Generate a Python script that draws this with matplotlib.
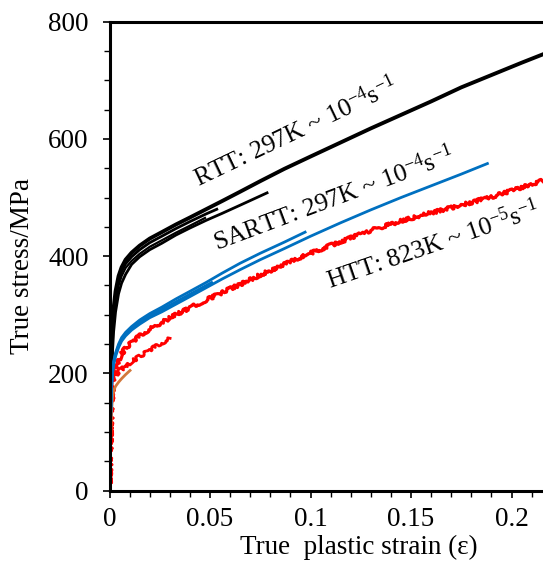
import matplotlib
matplotlib.use("Agg")
import matplotlib.pyplot as plt
from matplotlib.ticker import MultipleLocator, FuncFormatter

plt.rcParams["font.family"] = ["Liberation Serif", "DejaVu Serif"]
plt.rcParams["mathtext.fontset"] = "custom"
plt.rcParams["mathtext.rm"] = "Liberation Serif"
plt.rcParams["mathtext.it"] = "Liberation Serif:italic"

# RTT: room temperature tests (297 K, 1e-4 /s)
rtt_long_strain = [0, 0.0003, 0.0006, 0.001, 0.0015, 0.002, 0.003, 0.0045, 0.006, 0.008, 0.011,
                   0.015, 0.02, 0.026, 0.033, 0.04, 0.048, 0.056, 0.065, 0.075, 0.087, 0.1,
                   0.115, 0.13, 0.145, 0.16, 0.175, 0.19, 0.205, 0.222]
rtt_long_stress = [0, 90, 170, 235, 280, 310, 340, 366, 381, 394, 406,
                   418, 430, 441, 454, 466, 480, 494, 510, 528, 549, 570,
                   594, 618, 641, 664, 688, 709, 730, 753]
rtt_b_strain = [0, 0.0003, 0.0006, 0.001, 0.0015, 0.002, 0.003, 0.0045, 0.006, 0.008, 0.011,
                0.015, 0.02, 0.026, 0.033, 0.04, 0.048, 0.054]
rtt_b_stress = [0, 85, 160, 222, 268, 300, 332, 358, 374, 387, 399,
                411, 423, 434, 447, 459, 472, 481]
rtt_c_strain = [0, 0.0003, 0.0006, 0.001, 0.0015, 0.002, 0.003, 0.0045, 0.006, 0.008, 0.011,
                0.015, 0.02, 0.026, 0.033, 0.04, 0.048]
rtt_c_stress = [0, 80, 150, 210, 255, 288, 322, 350, 366, 380, 392,
                404, 416, 427, 440, 452, 466]
rtt_d_strain = [0, 0.0003, 0.0006, 0.001, 0.0015, 0.002, 0.003, 0.0045, 0.006, 0.008, 0.011,
                0.015, 0.02, 0.026, 0.033, 0.04, 0.048, 0.056, 0.065, 0.072, 0.079]
rtt_d_stress = [0, 75, 140, 195, 238, 270, 305, 336, 354, 369, 386,
                399, 411, 422, 436, 448, 461, 473, 487, 498, 509]

# SARTT: 297 K, 1e-4 /s
sartt_long_strain = [0, 0.0003, 0.0006, 0.001, 0.0015, 0.002, 0.003, 0.0045, 0.006, 0.008, 0.011,
                     0.015, 0.02, 0.026, 0.033, 0.04, 0.048, 0.056, 0.065, 0.075, 0.087, 0.1,
                     0.115, 0.13, 0.145, 0.16, 0.175, 0.188]
sartt_long_stress = [0, 70, 130, 175, 200, 214, 229, 244, 255, 264, 274,
                     284, 295, 305, 318, 331, 346, 361, 377, 394, 413, 434,
                     457, 479, 500, 520, 540, 558]
sartt_b_strain = [0, 0.0003, 0.0006, 0.001, 0.0015, 0.002, 0.003, 0.0045, 0.006, 0.008, 0.011,
                  0.015, 0.02, 0.026, 0.033, 0.04, 0.048, 0.056, 0.065, 0.075, 0.087, 0.0973]
sartt_b_stress = [0, 72, 135, 182, 207, 220, 235, 250, 261, 270, 280,
                  291, 302, 313, 327, 340, 355, 371, 388, 405, 424, 441]
sartt_c_strain = [0, 0.0003, 0.0006, 0.001, 0.0015, 0.002, 0.003, 0.0045, 0.006, 0.008, 0.011,
                  0.015, 0.02, 0.026, 0.033, 0.04, 0.0508]
sartt_c_stress = [0, 70, 132, 178, 203, 217, 232, 247, 258, 267, 277,
                  287, 298, 309, 322, 335, 355]

# HTT: high temperature tests (823 K, 1e-5 /s)
htt_long_strain = [0, 0.0003, 0.0006, 0.001, 0.0015, 0.002, 0.003, 0.0045, 0.006, 0.008, 0.011,
                   0.015, 0.02, 0.026, 0.033, 0.04, 0.048, 0.056, 0.065, 0.075, 0.087, 0.1,
                   0.115, 0.13, 0.145, 0.16, 0.175, 0.19, 0.205, 0.2157, 0.222]
htt_long_stress = [0, 50, 100, 145, 175, 192, 209, 223, 233, 243, 253,
                   264, 276, 287, 300, 312, 325, 338, 352, 368, 386, 405,
                   425, 444, 460, 474, 487, 501, 517, 529, 532]
htt_b_strain = [0, 0.0003, 0.0006, 0.001, 0.0015, 0.002, 0.003, 0.0045, 0.006, 0.008, 0.011,
                0.015, 0.02, 0.025, 0.0301]
htt_b_stress = [0, 50, 95, 140, 170, 184, 196, 203, 207, 213, 220,
                229, 240, 250, 260]
htt_c_strain = [0, 0.0003, 0.0006, 0.001, 0.0015, 0.002, 0.003, 0.0045, 0.006, 0.008, 0.0102]
htt_c_stress = [0, 50, 95, 135, 160, 170, 178, 185, 191, 198, 205]

x_ticks = [0, 0.05, 0.1, 0.15, 0.2]
y_ticks = [0, 200, 400, 600, 800]

BLACK = "#000000"
BLUE = "#0070C0"
RED = "#FF0000"
ORANGE = "#D2783C"

fig = plt.figure(figsize=(5.43, 5.67), dpi=100)
ax = fig.add_axes([0.2017, 0.1347, 0.9254, 0.827])

for s, t, lw in [(rtt_d_strain, rtt_d_stress, 2.0), (rtt_c_strain, rtt_c_stress, 1.6),
                 (rtt_b_strain, rtt_b_stress, 2.0), (rtt_long_strain, rtt_long_stress, 2.8)]:
    ax.plot(s, t, color=BLACK, lw=lw, solid_capstyle="butt", solid_joinstyle="round")

for s, t, lw in [(htt_long_strain, htt_long_stress, 2.3), (htt_b_strain, htt_b_stress, 2.0)]:
    ln, = ax.plot(s, t, color=RED, lw=lw, solid_joinstyle="round")
    ln.set_sketch_params(scale=1.8, length=3, randomness=30)
ax.plot(htt_c_strain, htt_c_stress, color=ORANGE, lw=2.0, solid_joinstyle="round")

for s, t in [(sartt_c_strain, sartt_c_stress), (sartt_b_strain, sartt_b_stress),
             (sartt_long_strain, sartt_long_stress)]:
    ax.plot(s, t, color=BLUE, lw=2.0, solid_joinstyle="round")

ax.set_xlim(0, 0.25)
ax.set_ylim(0, 800)
ax.set_xticks(x_ticks)
ax.set_yticks(y_ticks)
ax.xaxis.set_minor_locator(MultipleLocator(0.01))
ax.yaxis.set_minor_locator(MultipleLocator(50))
ax.xaxis.set_major_formatter(FuncFormatter(lambda v, p: "%g" % v))
ax.tick_params(which="major", direction="out", length=5, width=1.2, labelsize=19.5)
ax.tick_params(axis="y", which="major", pad=10)
ax.tick_params(axis="x", which="major", pad=7)
ax.tick_params(which="minor", direction="out", length=4, width=1.0)
for side in ("left", "bottom", "top", "right"):
    ax.spines[side].set_linewidth(2.2)

ax.set_xlabel("True  plastic strain (\u03b5)", fontsize=19.5)
ax.xaxis.set_label_coords(0.124 / 0.25, -0.095)
ax.set_ylabel("True stress/MPa", fontsize=19.5)
ax.yaxis.set_label_coords(-0.148, 0.479)

sup = lambda e: "10$^{\\mathregular{%s}}$s$^{\\mathregular{-1}}$" % e
ax.text(0.0923, 612, "RTT: 297K ~ " + sup("-4"), fontsize=18.5, rotation=25.5,
        ha="center", va="center", rotation_mode="anchor")
ax.text(0.1113, 498, "SARTT: 297K ~ " + sup("-4"), fontsize=18.5, rotation=20.5,
        ha="center", va="center", rotation_mode="anchor")
ax.text(0.161, 420, "HTT: 823K ~ " + sup("-5"), fontsize=18.5, rotation=19,
        ha="center", va="center", rotation_mode="anchor")

fig.savefig("out.png", dpi=100)
